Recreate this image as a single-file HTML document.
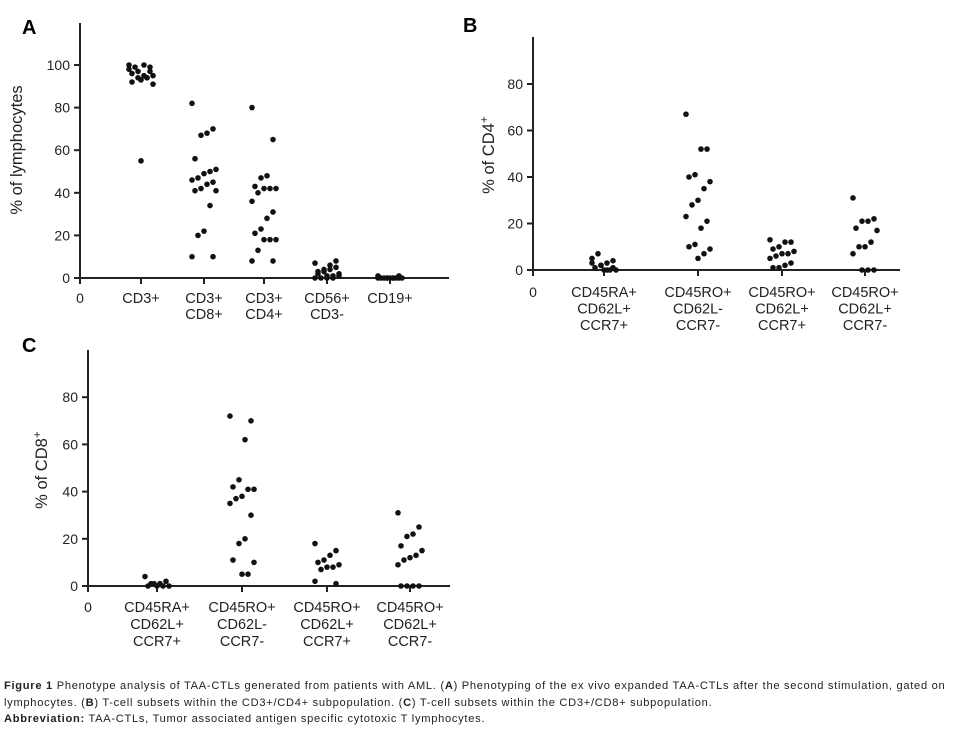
<!DOCTYPE html>
<html><head><meta charset="utf-8">
<style>
body{margin:0;background:#fff;width:962px;height:738px;overflow:hidden;font-family:"Liberation Sans",sans-serif}
svg{position:absolute;left:0;top:0}
.cap{position:absolute;left:4px;top:678px;width:958px;font-size:11.1px;line-height:16.5px;color:#222;letter-spacing:0.72px;white-space:nowrap}
</style></head><body>
<svg id="chart" width="962" height="680"></svg>
<div class="cap"><b>Figure 1</b> Phenotype analysis of TAA-CTLs generated from patients with AML. (<b>A</b>) Phenotyping of the ex vivo expanded TAA-CTLs after the second stimulation, gated on<br>lymphocytes. (<b>B</b>) T-cell subsets within the CD3+/CD4+ subpopulation. (<b>C</b>) T-cell subsets within the CD3+/CD8+ subpopulation.<br><b>Abbreviation:</b> TAA-CTLs, Tumor associated antigen specific cytotoxic T lymphocytes.</div>
<script>
const catsA=[["CD3+"],["CD3+","CD8+"],["CD3+","CD4+"],["CD56+","CD3-"],["CD19+"]];
const valsA=[
[98,99,100,97,96,95,94,93,99,100,97,95,94,92,91,94,55],
[82,70,68,67,56,51,50,49,47,46,45,44,42,41,41,34,22,20,10,10],
[80,65,48,47,43,42,42,42,40,36,31,28,23,21,18,18,18,13,8,8],
[7,5,4,3,3,2,1,1,0,0,8,6,4,2,1,0,0],
[0,0,0,0,0,0,0,0,0,1,1,0,0]];
const ticksA=[0,20,40,60,80,100];
const catsBC=[["CD45RA+","CD62L+","CCR7+"],["CD45RO+","CD62L-","CCR7-"],["CD45RO+","CD62L+","CCR7+"],["CD45RO+","CD62L+","CCR7-"]];
const valsB=[
[5,4,3,2,1,0,0,0,7,3,1,0,2],
[67,52,52,41,40,38,35,30,28,23,21,18,11,10,9,7,5],
[13,12,12,10,9,8,7,7,6,5,3,2,1,1],
[31,22,21,21,18,17,12,10,10,7,0,0,0]];
const valsC=[
[4,2,1,1,0,0,0,0,1],
[72,70,62,45,42,41,41,38,37,35,30,20,18,11,10,5,5],
[18,15,13,11,10,9,8,8,7,2,1],
[31,25,22,21,17,15,13,12,11,9,0,0,0,0]];
const ticksBC=[0,20,40,60,80];

const svg=document.getElementById('chart');
const NS='http://www.w3.org/2000/svg';
function mk(t,a,p){const e=document.createElementNS(NS,t);for(const k in a)e.setAttribute(k,a[k]);(p||svg).appendChild(e);return e;}

function panel(cfg){
  const g=mk('g',{});
  
  
  const y=v=>cfg.y0-v*cfg.ppu;
  const x=i=>cfg.xs[i];
  const L=mk('text',{x:cfg.lx,y:cfg.ly,'font-size':20,'font-weight':'bold'},g);L.textContent=cfg.letter;
  
  
  const ya=mk('line',{x1:cfg.ax,y1:cfg.top,x2:cfg.ax,y2:cfg.y0+6,stroke:'#222','stroke-width':2},g);
  
  
  const xa=mk('line',{x1:cfg.ax-6,y1:cfg.y0,x2:cfg.right,y2:cfg.y0,stroke:'#222','stroke-width':2},g);
  
  
  cfg.ticks.forEach(t=>{
    mk('line',{x1:cfg.ax-6,y1:y(t),x2:cfg.ax,y2:y(t),stroke:'#222','stroke-width':2},g);
    const tx=mk('text',{x:cfg.ax-10,y:y(t)+5,'font-size':14,'text-anchor':'end',fill:'#222'},g);tx.textContent=t;
    
    
  });
  const z=mk('text',{x:cfg.ax,y:cfg.labY,'font-size':14,'text-anchor':'middle',fill:'#222'},g);z.textContent='0';
  
  
  const tt=mk('text',{transform:`translate(${cfg.tx},${cfg.ty}) rotate(-90)`,'font-size':16.5,'text-anchor':'middle',fill:'#222'},g);
  tt.textContent=cfg.title;
  if(cfg.sup){const s=mk('tspan',{'font-size':12,dy:-6},tt);s.textContent='+';}
  
  
  cfg.cats.forEach((c,i)=>{
    mk('line',{x1:x(i),y1:cfg.y0,x2:x(i),y2:cfg.y0+6,stroke:'#222','stroke-width':2},g);
    const t=mk('text',{x:x(i),y:cfg.labY,'font-size':14.5,'text-anchor':'middle',fill:'#222'},g);
    
    
    c.forEach((ln,j)=>{const s=mk('tspan',{x:x(i),dy:j?cfg.lh:0},t);s.textContent=ln;});
    cfg.vals[i].forEach((v,k)=>{
      const off=((k*7)%9-4)*3;
      const d=mk('circle',{cx:x(i)+off,cy:y(v),r:2.8,fill:'#111'},g);
      
      
    });
  });
}
panel({letter:'A',lx:22,ly:34,ax:80,top:23,y0:278,ppu:2.13,right:449,ticks:ticksA,cats:catsA,vals:valsA,
  xs:[141,204,264,327,390],labY:303,lh:16,title:'% of lymphocytes',tx:22,ty:150});
panel({letter:'B',lx:463,ly:32,ax:533,top:37,y0:270,ppu:2.325,right:900,ticks:ticksBC,cats:catsBC,vals:valsB,
  xs:[604,698,782,865],labY:297,lh:16.5,title:'% of CD4',sup:true,tx:494,ty:155});
panel({letter:'C',lx:22,ly:352,ax:88,top:350,y0:586,ppu:2.36,right:450,ticks:ticksBC,cats:catsBC,vals:valsC,
  xs:[157,242,327,410],labY:612,lh:17,title:'% of CD8',sup:true,tx:47,ty:470});
</script>
</body></html>
